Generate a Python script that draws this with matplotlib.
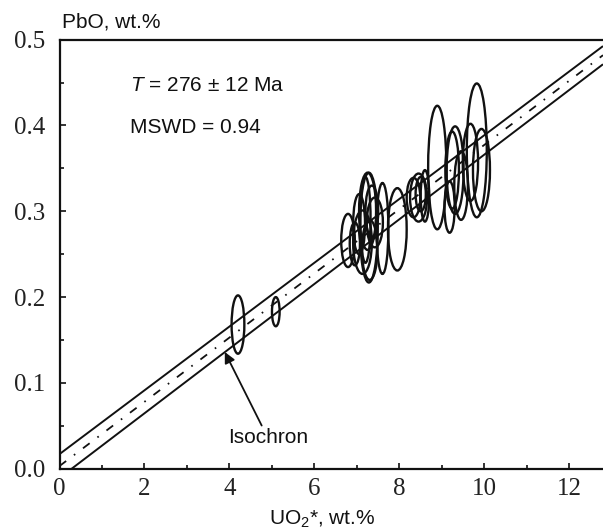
import numpy as np
import matplotlib
matplotlib.use("Agg")
import matplotlib.pyplot as plt
from matplotlib.patches import Ellipse

plt.rcParams['font.family'] = ['Liberation Sans', 'DejaVu Sans']
plt.rcParams['mathtext.fontset'] = 'custom'
plt.rcParams['mathtext.rm'] = 'Liberation Sans'
plt.rcParams['mathtext.it'] = 'Liberation Sans:italic'
plt.rcParams['mathtext.default'] = 'regular'
plt.rcParams['lines.scale_dashes'] = False

# ---- data: analysis error ellipses (UO2*, PbO) ----
uo2 = [4.20, 5.09, 6.79, 6.95, 7.13, 7.05, 7.25, 7.28, 7.30, 7.35, 7.20, 7.42, 7.60,
       7.95, 8.33, 8.45, 8.50, 8.60, 8.89, 9.18, 9.24, 9.31, 9.45, 9.67, 9.82, 9.93]
pbo = [0.168, 0.183, 0.266, 0.262, 0.264, 0.285, 0.300, 0.281, 0.255, 0.300, 0.290, 0.287, 0.280,
       0.279, 0.316, 0.316, 0.320, 0.318, 0.351, 0.305, 0.348, 0.348, 0.330, 0.357, 0.371, 0.348]
err_uo2 = [0.15, 0.09, 0.16, 0.12, 0.22, 0.14, 0.20, 0.21, 0.18, 0.15, 0.12, 0.19, 0.14,
           0.22, 0.16, 0.20, 0.12, 0.10, 0.215, 0.12, 0.16, 0.20, 0.16, 0.18, 0.235, 0.20]
err_pbo = [0.034, 0.017, 0.031, 0.025, 0.037, 0.035, 0.045, 0.064, 0.035, 0.030, 0.050, 0.029, 0.053,
           0.048, 0.023, 0.028, 0.020, 0.030, 0.072, 0.030, 0.045, 0.051, 0.040, 0.045, 0.078, 0.048]

# isochron fit and envelope (intercept, slope)
iso_center = (0.0031, 0.03744)
iso_upper = (0.0170, 0.03718)
iso_lower = (-0.01082, 0.03770)

x_max = 12.79
xticks = [0, 2, 4, 6, 8, 10, 12]
yticks = [0.0, 0.1, 0.2, 0.3, 0.4, 0.5]

W, H = 603, 532
fig = plt.figure(figsize=(W/100, H/100), dpi=100)
left = 59.5 / W
bottom = (H - 468.7) / H
top = (H - 39.7) / H
ax = fig.add_axes([left, bottom, 1 - left, top - bottom])

# ellipses
for cx, cy, ex, ey in zip(uo2, pbo, err_uo2, err_pbo):
    ax.add_patch(Ellipse((cx, cy), 2 * ex, 2 * ey, fill=False, edgecolor='#111111', lw=1.7))

# isochron lines
xs = np.linspace(0, x_max, 200)
for (a, b) in (iso_upper, iso_lower):
    ax.plot(xs, a + b * xs, color='#111111', lw=1.4, solid_capstyle='butt')
ax.plot(xs, iso_center[0] + iso_center[1] * xs, color='#111111', lw=1.3,
        linestyle=(0, (6, 7, 1.2, 7)))

ax.set_xlim(0, x_max)
ax.set_ylim(0, 0.5)
ax.spines['right'].set_visible(False)
for s in ('left', 'bottom', 'top'):
    ax.spines[s].set_linewidth(1.6)
    ax.spines[s].set_color('#111111')

ax.set_xticks(xticks)
ax.set_xticks([1, 3, 5, 7, 9, 11], minor=True)
ax.set_yticks(yticks)
ax.set_yticks([0.05, 0.15, 0.25, 0.35, 0.45], minor=True)
ax.set_xticklabels([str(v) for v in xticks])
ax.set_yticklabels(['%.1f' % v for v in yticks])
ax.tick_params(which='both', direction='in', colors='#111111', width=1.2)
ax.tick_params(which='major', length=4)
ax.tick_params(which='minor', length=3)
ax.tick_params(axis='x', which='major', pad=7)
ax.tick_params(axis='y', which='major', pad=10)
for lab in ax.get_xticklabels() + ax.get_yticklabels():
    lab.set_fontfamily('Liberation Serif')
    lab.set_fontsize(18)
    lab.set_color('#222222')

ax.text(1.66, 0.447, r'$\mathit{T}$ = 276 ± 12 Ma', fontsize=15, va='center', ha='left', color='#111111')
ax.text(1.66, 0.398, 'MSWD = 0.94', fontsize=15, va='center', ha='left', color='#111111')

ax.annotate('Isochron', xy=(3.89, 0.136), xytext=(3.96, 0.036), fontsize=15,
            ha='left', va='center', color='#111111',
            arrowprops=dict(arrowstyle='-|>', color='#111111', lw=1.3,
                            mutation_scale=16, shrinkA=0, shrinkB=0),
            )

fig.text(62 / W, 1 - 22 / H, 'PbO, wt.%', fontsize=15, ha='left', va='center', color='#111111')
fig.text(322 / W, 1 - 519 / H, 'UO$_2$*, wt.%', fontsize=15, ha='center', va='center', color='#111111')

fig.savefig('out.png', dpi=100)
